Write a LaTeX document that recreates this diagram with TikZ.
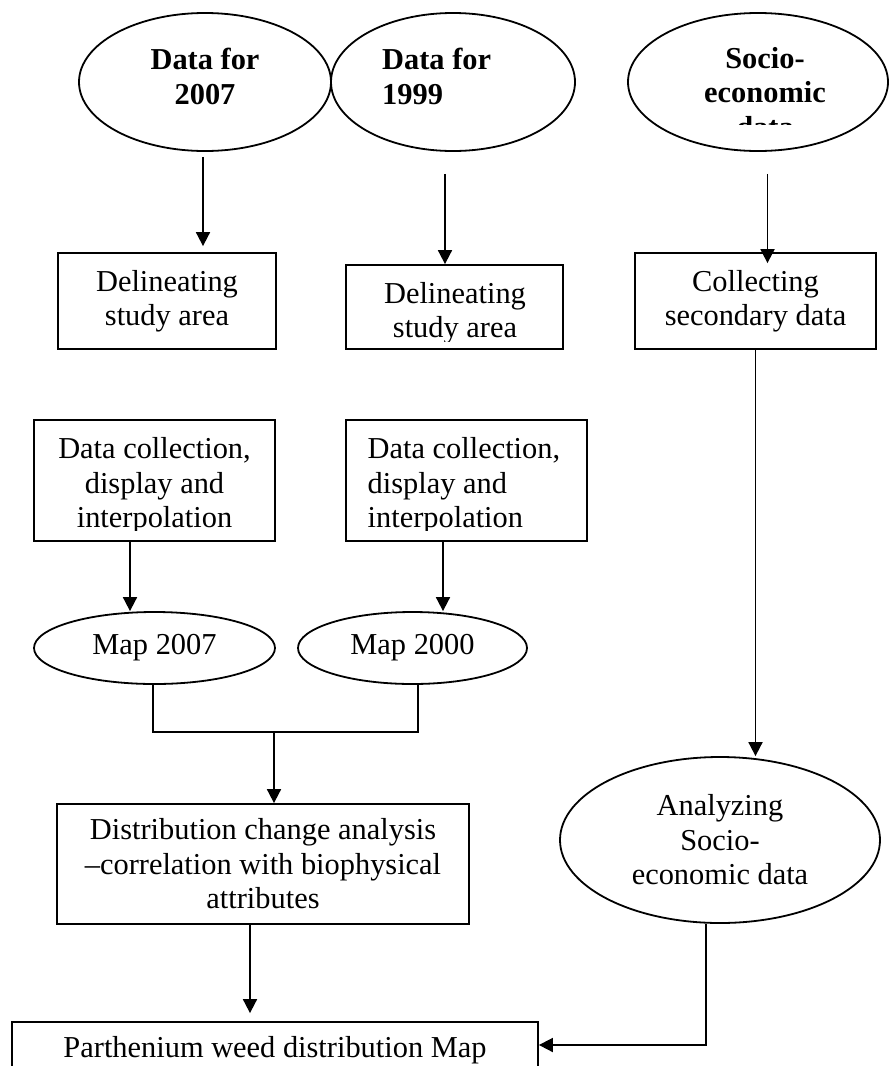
\documentclass[tikz,border=0pt]{standalone}
\usepackage{fontspec}
\setmainfont{Liberation Serif}
\usetikzlibrary{shapes.geometric, arrows.meta}
\newcommand\flowfont{\fontsize{30.4pt}{34.5pt}\selectfont}
\tikzset{
  box/.style = {draw, line width = 1.8pt, inner sep = 0pt, align = center},
  oval/.style = {draw, ellipse, line width = 1.8pt, inner sep = 0pt, align = center},
  words/.style = {inner sep = 0pt, align = center},
  heading/.style = {font = \flowfont\bfseries},
  arrow/.style = {line width = 1.8pt, -{Triangle[length = 14pt, width = 14pt]}},
  link/.style = {line width = 1.8pt}
}
\begin{document}
\begin{tikzpicture}[x = 1pt, y = -1pt, font = \flowfont]
      \useasboundingbox (0,0) rectangle (891,1066);
      \fill [white] (0,0) rectangle (891,1066);
      \clip (0,0) rectangle (891,1066);
      \node [oval, minimum width = 252pt, minimum height = 138pt]
        (data07) at (205,82) {};
      \node [words, heading] (data07 text) at (205,76.5) {Data for\\2007};
      \node [oval, minimum width = 244pt, minimum height = 138pt]
        (data99) at (453,82) {};
      \node [words, heading, align = left, anchor = west]
        (data99 text) at (382,76.5) {Data for\\1999};
      \node [oval, minimum width = 260pt, minimum height = 138pt]
        (socio) at (758,82) {};
      \begin{scope}
        \clip (620,0) rectangle (891,124);
        \node [words, heading] (socio text) at (765,92.5) {Socio-\\economic\\data};
      \end{scope}
      \node [box, minimum width = 218.5pt, minimum height = 96pt]
        (delin07) at (167,301) {Delineating\\study area};
      \node [box, minimum width = 217pt, minimum height = 84pt]
        (delin99) at (454.5,307) {};
      \begin{scope}
        \clip (346,265) rectangle (563,341);
        \node [words] (delin99 text) at (455,313.3) {Delineating\\study area};
      \end{scope}
      \node [box, minimum width = 241pt, minimum height = 96pt]
        (collect) at (755.5,301) {Collecting\\secondary data};
      \node [box, minimum width = 241pt, minimum height = 121pt]
        (interp07) at (154.5,480.5) {};
      \node [box, minimum width = 241pt, minimum height = 121pt]
        (interp99) at (466.5,480.5) {};
      \begin{scope}
        \clip (34,420) rectangle (587,530);
        \node [words] (interp07 text) at (154.5,485.8)
          {Data collection,\\display and\\interpolation};
        \node [words, align = left, anchor = west] (interp99 text) at (367.5,485.8)
          {Data collection,\\display and\\interpolation};
      \end{scope}
      \node [oval, minimum width = 241pt, minimum height = 72pt]
        (map07) at (154.5,648) {Map 2007};
      \node [oval, minimum width = 229pt, minimum height = 72pt]
        (map00) at (412.5,648) {Map 2000};
      \node [box, minimum width = 412pt, minimum height = 120pt]
        (change) at (263,864)
        {Distribution change analysis\\–correlation with biophysical\\attributes};
      \node [oval, minimum width = 320pt, minimum height = 166pt]
        (analyse) at (720,840) {Analyzing\\Socio-\\economic data};
      \node [box, minimum width = 526pt, minimum height = 46pt,
             text height = 30pt, text depth = 6pt]
        (weedmap) at (275,1045) {Parthenium weed distribution Map};
      \draw [arrow, shorten < = 5pt, shorten > = 6pt]
        ([xshift = -2pt]data07.south) -- ([xshift = -2pt]data07.south |- delin07.north);
      \draw [arrow, shorten < = 22pt]
        ([xshift = -8pt]data99.south) -- ([xshift = -8pt]data99.south |- delin99.north);
      \draw [arrow, shorten < = 22pt, shorten > = -11pt]
        ([xshift = 9.5pt]socio.south) -- ([xshift = 9.5pt]socio.south |- collect.north);
      \draw [arrow] (collect.south) -- (collect.south |- analyse.north);
      \draw [arrow]
        ([xshift = -24.5pt]interp07.south) -- ([xshift = -24.5pt]interp07.south |- map07.north);
      \draw [arrow]
        ([xshift = -23.5pt]interp99.south) -- ([xshift = -23.5pt]interp99.south |- map00.north);
      \coordinate (merge) at (274,732);
      \draw [link] ([xshift = -1.5pt]map07.south) |- (merge) -| ([xshift = 5.5pt]map00.south);
      \draw [arrow] (merge) -- (merge |- change.north);
      \draw [arrow, shorten > = 8pt]
        ([xshift = -13pt]change.south) -- ([xshift = -13pt]change.south |- weedmap.north);
      \draw [arrow] ([xshift = -14pt]analyse.south) |- (weedmap.east);
    \end{tikzpicture}
\end{document}
